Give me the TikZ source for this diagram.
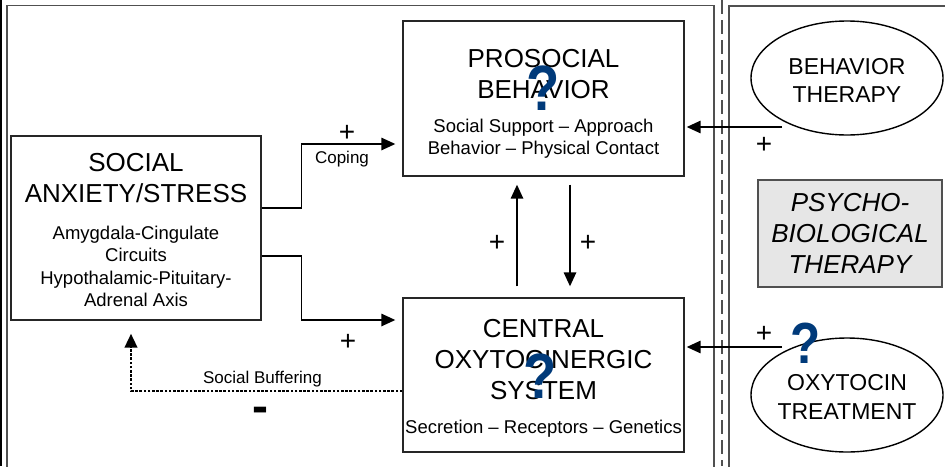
\documentclass[tikz,border=0pt]{standalone}
\usepackage{fontspec}
\setmainfont{Liberation Sans}
\usetikzlibrary{shapes.geometric,arrows.meta,calc}
\definecolor{qblue}{RGB}{0,58,122}
\definecolor{framegray}{RGB}{80,80,80}
\definecolor{therapygray}{RGB}{230,230,230}
\newcommand\headsize{\fontsize{26}{31}\selectfont}
\newcommand\notesize{\fontsize{18.5}{22.3}\selectfont}
\newcommand\ovalsize{\fontsize{23}{28.5}\selectfont}
\newcommand\labelsize{\fontsize{17}{20}\selectfont}
\newcommand\signsize{\fontsize{28}{30}\selectfont}

\begin{document}
\begin{tikzpicture}[x=1pt,y=-1pt,
  box/.style={draw=black!85,line width=1.4pt,inner sep=0pt},
  oval/.style={ellipse,draw=black,line width=1.4pt,inner sep=0pt,minimum width=192pt,minimum height=114pt},
  head/.style={align=center,font=\headsize,inner sep=0pt},
  note/.style={align=center,font=\notesize,inner sep=0pt},
  sign/.style={font=\signsize,inner sep=0pt,anchor=base},
  query/.style={font=\fontsize{64}{64}\selectfont\bfseries,text=qblue,inner sep=0pt},
  arr/.style={-{Triangle[length=14pt,width=12.5pt]},line width=1.5pt},
  frame/.style={draw=framegray,line width=1.5pt}]
\useasboundingbox (0,0) rectangle (945,466);
\draw[line width=2pt] (1,0) -- (1,466);
\draw[frame] (7,470) -- (7,5.5) -- (714,5.5) -- (714,470);
\draw[frame,dash pattern=on 14pt off 6pt] (722,0) -- (722,466);
\draw[frame] (729,470) -- (729,6) -- (950,6);
\node[box,minimum width=250pt,minimum height=184pt] (social) at (136,228) {};
\node[box,minimum width=281pt,minimum height=155pt] (prosocial) at (543.5,98.5) {};
\node[box,minimum width=281pt,minimum height=154pt] (central) at (543.5,375) {};
\node[oval] (behavior) at (847,78) {};
\node[oval] (oxytocin) at (847,395) {};
\node[box,draw=framegray,fill=therapygray,minimum width=184pt,minimum height=107pt] (psycho) at (850,233.5) {};
\node[head] (socialhead) at (136,178) {SOCIAL\\ANXIETY/STRESS};
\node[note] (socialnote) at (136,266.5) {Amygdala-Cingulate\\Circuits\\Hypothalamic-Pituitary-\\Adrenal Axis};
\node[head] (prosocialhead) at (543.5,74.5) {PROSOCIAL\\BEHAVIOR};
\node[note] (prosocialnote) at (543.5,139) {Social Support – Approach\\Behavior – Physical Contact};
\node[head] (centralhead) at (543.5,360) {CENTRAL\\OXYTOCINERGIC\\SYSTEM};
\node[note,anchor=base] (centralnote) at (543.5,433.6) {Secretion – Receptors – Genetics};
\node[align=center,font=\ovalsize,inner sep=0pt] (behaviortext) at (847,80.5) {BEHAVIOR\\THERAPY};
\node[align=center,font=\ovalsize,inner sep=0pt] (oxytocintext) at (847,397) {OXYTOCIN\\TREATMENT};
\node[head,font=\headsize\itshape] (psychotext) at (850,233.5) {PSYCHO-\\BIOLOGICAL\\THERAPY};
\node[query] (prosocialq) at (543,88) {\scalebox{0.85}[1]{?}};
\node[query] (centralq) at (540,376) {\scalebox{0.85}[1]{?}};
\node[query,font=\fontsize{58}{58}\selectfont\bfseries] (oxytocinq) at (806,343) {\scalebox{0.85}[1]{?}};
\draw[arr] ([yshift=20pt]social.east) -- ++(40,0) |- ([xshift=-7pt,yshift=-45.5pt]prosocial.west);
\draw[arr] ([yshift=-28pt]social.east) -- ++(40,0) |- ([xshift=-7pt,yshift=55pt]central.west);
\draw[arr] ([xshift=-26.5pt,yshift=11pt]central.north) -- ([xshift=-26.5pt,yshift=-8pt]prosocial.south);
\draw[arr] ([xshift=26.5pt,yshift=-8pt]prosocial.south) -- ([xshift=26.5pt,yshift=11pt]central.north);
\coordinate (behaviorfoot) at (782,127);
\coordinate (oxytocinfoot) at (782,347);
\draw[arr] (behaviorfoot) -- ($(behaviorfoot -| prosocial.east)+(2,0)$);
\draw[arr] (oxytocinfoot) -- ($(oxytocinfoot -| central.east)+(2,0)$);
\draw[arr,line width=2.6pt,dash pattern=on 2.6pt off 1.6pt] ([yshift=-16pt]central.west) -| ([xshift=-5pt,yshift=-13pt]social.south);
\node[sign] (copingplus) at (347,141) {+};
\node[font=\labelsize,anchor=base] (coping) at (342,163) {Coping};
\node[sign] (bufferplus) at (348,350) {+};
\node[sign] (upplus) at (497,251) {+};
\node[sign] (downplus) at (588,251) {+};
\node[sign] (behaviorplus) at (764,153) {+};
\node[sign] (oxytocinplus) at (764,342) {+};
\node[font=\labelsize,anchor=base] (buffering) at (262.5,383) {Social Buffering};
\node[font=\fontsize{48}{48}\selectfont\bfseries,inner sep=0pt,anchor=base] (minus) at (260,422) {-};
\end{tikzpicture}
\end{document}
